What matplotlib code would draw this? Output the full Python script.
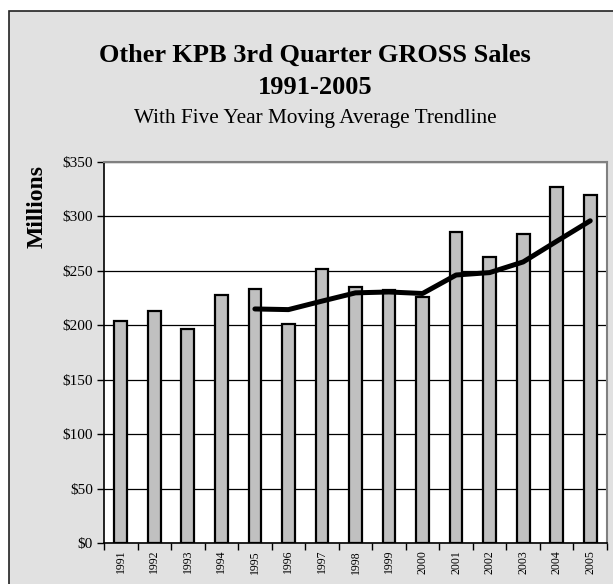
import numpy as np
import matplotlib.pyplot as plt
from matplotlib.patches import Rectangle

plt.rcParams['font.family'] = ['Liberation Serif', 'DejaVu Serif']

years = ['1991', '1992', '1993', '1994', '1995', '1996', '1997', '1998',
         '1999', '2000', '2001', '2002', '2003', '2004', '2005']
sales = [204, 213, 197, 228, 233, 201, 252, 235, 232, 226, 286, 263, 284, 327, 320]
# five year moving average, starts at 1995
ma_years = years[4:]
ma_values = [215, 214.4, 222.2, 229.8, 230.6, 229.2, 246.2, 248.4, 258.2, 277.2, 296]
y_ticks = [0, 50, 100, 150, 200, 250, 300, 350]

W, H = 613, 584
fig = plt.figure(figsize=(W / 100, H / 100), dpi=100)
fig.patch.set_facecolor('white')

# chart area frame (runs off the right and bottom of the picture)
frame = Rectangle((9 / W, -0.05), 1.2, 1 - 11 / H + 0.05, transform=fig.transFigure,
                  facecolor='#e1e1e1', edgecolor='#222222', lw=1.2, zorder=-1)
fig.add_artist(frame)

ax = fig.add_axes([104 / W, 1 - 543 / H, (607 - 104) / W, (543 - 162) / H])
ax.set_zorder(2)
ax.set_facecolor('white')

x = np.arange(len(years))
ax.bar(x, sales, width=0.38, color='#c0c0c0', edgecolor='black', lw=1.6, zorder=3)
ma_x = [years.index(y) for y in ma_years]
ax.plot(ma_x, ma_values, color='black', lw=3.6, solid_capstyle='round',
        solid_joinstyle='round', zorder=4)

ax.set_xlim(-0.5, len(years) - 0.5)
ax.set_ylim(0, 350)
ax.set_yticks(y_ticks)
ax.set_yticklabels(['$%d' % v for v in y_ticks], fontsize=11)
ax.yaxis.grid(True, color='black', lw=0.9, zorder=1)
ax.set_axisbelow(True)

ax.set_xticks(x)
ax.set_xticklabels(years, rotation=90, fontsize=8.5)
ax.tick_params(axis='x', length=0, pad=5)
ax.set_xticks(np.arange(-0.5, len(years)), minor=True)
ax.tick_params(axis='x', which='minor', length=5, width=1, color='black')
ax.tick_params(axis='y', length=5, width=1, pad=3)

for s in ['top', 'right']:
    ax.spines[s].set_color('#808080')
    ax.spines[s].set_linewidth(1.5)
for s in ['left', 'bottom']:
    ax.spines[s].set_color('black')
    ax.spines[s].set_linewidth(1.2)

fig.text(315 / W, 1 - 55 / H, 'Other KPB 3rd Quarter GROSS Sales', ha='center', va='center',
         fontsize=19, fontweight='bold')
fig.text(315 / W, 1 - 88 / H, '1991-2005', ha='center', va='center',
         fontsize=19, fontweight='bold')
fig.text(315 / W, 1 - 118 / H, 'With Five Year Moving Average Trendline', ha='center',
         va='center', fontsize=15.3)
fig.text(37 / W, 1 - 206 / H, 'Millions', rotation=90, ha='center', va='center',
         fontsize=17, fontweight='bold')

fig.savefig('out.png', dpi=100)
